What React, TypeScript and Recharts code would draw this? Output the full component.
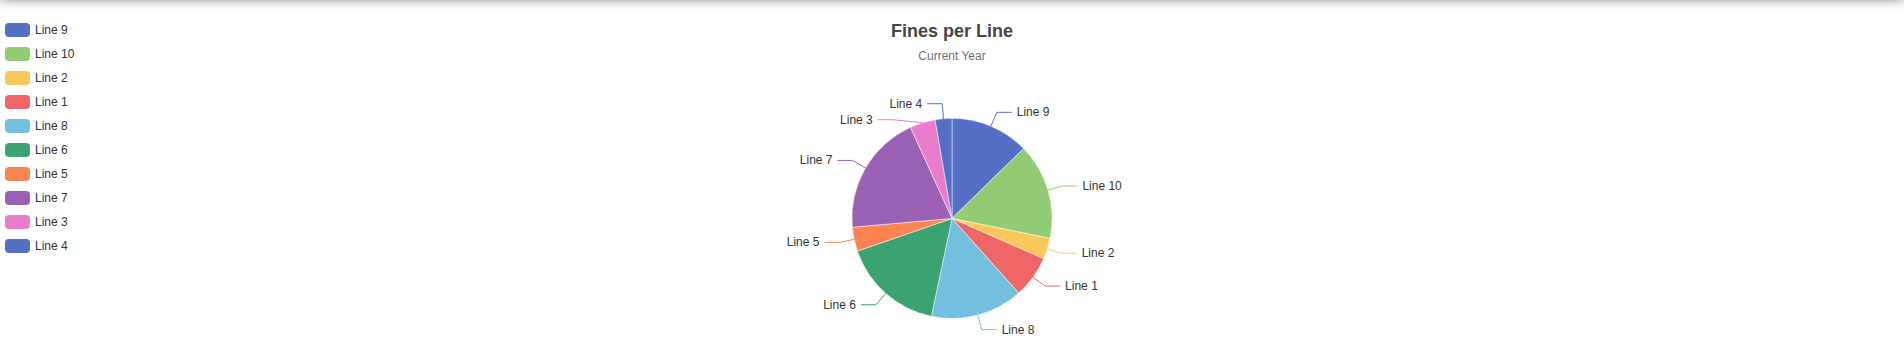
import React from 'react';
import { PieChart, Pie, Cell } from 'recharts';

const lineNames = ['Line 9', 'Line 10', 'Line 2', 'Line 1', 'Line 8', 'Line 6', 'Line 5', 'Line 7', 'Line 3', 'Line 4'];
const fineCounts = [127, 155, 34, 68, 149, 164, 39, 196, 41, 27];
const palette = ['#5470c6', '#91cc75', '#fac858', '#ee6666', '#73c0de', '#3ba272', '#fc8452', '#9a60b4', '#ea7ccc', '#5470c6'];
const chartTitle = 'Fines per Line';
const chartSubtitle = 'Current Year';

const data = lineNames.map((name, i) => ({ name, value: fineCounts[i] }));

const W = 1904;
const H = 364;
const CX = W * 0.5;
const CY = H * 0.6;
const R = (Math.min(W, H) / 2) * 0.55;
const LEN = 15;
const LEN2 = 15;
const GAP = 5;
const LABEL_H = 16;
const RAD = Math.PI / 180;
const FONT = '"Liberation Sans", Arial, Helvetica, sans-serif';

function computeLabelShifts(values: number[]) {
  const total = values.reduce((a, b) => a + b, 0);
  let acc = 0;
  const items = values.map((v, i) => {
    const start = 90 - (acc / total) * 360;
    acc += v;
    const end = 90 - (acc / total) * 360;
    const mid = (start + end) / 2;
    const c = Math.cos(-mid * RAD);
    const s = Math.sin(-mid * RAD);
    return { i, side: c >= 0 ? 1 : -1, y: CY + (R + LEN) * s };
  });
  const shifts = values.map(() => 0);
  [1, -1].forEach((side) => {
    const list = items.filter((it) => it.side === side).sort((a, b) => a.y - b.y);
    let prev = -Infinity;
    list.forEach((it) => {
      const y = Math.max(it.y, prev + LABEL_H);
      shifts[it.i] = y - it.y;
      prev = y;
    });
  });
  return shifts;
}

const labelShifts = computeLabelShifts(fineCounts);

const renderLabel = (props: any) => {
  const { cx, cy, midAngle, outerRadius, index, name } = props;
  const c = Math.cos(-midAngle * RAD);
  const s = Math.sin(-midAngle * RAD);
  const sx = cx + outerRadius * c;
  const sy = cy + outerRadius * s;
  let mx = cx + (outerRadius + LEN) * c;
  let my = cy + (outerRadius + LEN) * s;
  const dir = c >= 0 ? 1 : -1;
  const shift = labelShifts[index] || 0;
  if (Math.abs(shift) > 0.01) {
    my += shift;
    const rr = outerRadius + LEN;
    const dy = my - cy;
    mx = cx + dir * Math.sqrt(Math.max(0, rr * rr - dy * dy));
  }
  const ex = mx + dir * LEN2;
  const tx = ex + dir * GAP;
  return (
    <g>
      <polyline
        points={`${sx},${sy} ${mx},${my} ${ex},${my}`}
        fill="none"
        stroke={palette[index]}
        strokeWidth={1}
      />
      <text
        x={tx}
        y={my}
        textAnchor={dir > 0 ? 'start' : 'end'}
        dominantBaseline="central"
        fontSize={12}
        fontFamily={FONT}
        fill="#333"
      >
        {name}
      </text>
    </g>
  );
};

export default function App() {
  return (
    <div
      style={{
        position: 'absolute',
        left: 0,
        top: 0,
        width: W,
        height: H,
        overflow: 'hidden',
        background: '#fff',
        fontFamily: FONT,
      }}
    >
      <div style={{ position: 'absolute', left: 0, top: 0 }}>
        <PieChart width={W} height={H} margin={{ top: 0, right: 0, bottom: 0, left: 0 }}>
          <Pie
            data={data}
            dataKey="value"
            nameKey="name"
            cx={CX}
            cy={CY}
            outerRadius={R}
            startAngle={90}
            endAngle={-270}
            stroke="#fff"
            strokeWidth={0.5}
            label={renderLabel}
            labelLine={false}
            isAnimationActive={false}
          >
            {data.map((d, i) => (
              <Cell key={d.name} fill={palette[i]} />
            ))}
          </Pie>
        </PieChart>
      </div>
      <svg
        width={W}
        height={70}
        style={{ position: 'absolute', left: 0, top: 0, pointerEvents: 'none' }}
      >
        <text x={CX} y={36.5} textAnchor="middle" fontSize={18} fontWeight="bold" fill="#464646" fontFamily={FONT}>
          {chartTitle}
        </text>
        <text x={CX} y={59.5} textAnchor="middle" fontSize={12} fill="#6e7079" fontFamily={FONT}>
          {chartSubtitle}
        </text>
      </svg>
      <div style={{ position: 'absolute', left: 5, top: 23 }}>
        {lineNames.map((name, i) => (
          <div
            key={name}
            style={{ position: 'relative', height: 14, marginBottom: 10, display: 'flex', alignItems: 'flex-start' }}
          >
            <div style={{ width: 25, height: 14, borderRadius: 4, background: palette[i] }} />
            <div style={{ marginLeft: 5, fontSize: 12, lineHeight: '14px', color: '#333', whiteSpace: 'nowrap' }}>
              {name}
            </div>
          </div>
        ))}
      </div>
      <div
        style={{
          position: 'absolute',
          left: 0,
          top: -20,
          width: W,
          height: 20,
          boxShadow: '0 0 12px rgba(0,0,0,0.45)',
          background: '#fff',
        }}
      />
    </div>
  );
}
